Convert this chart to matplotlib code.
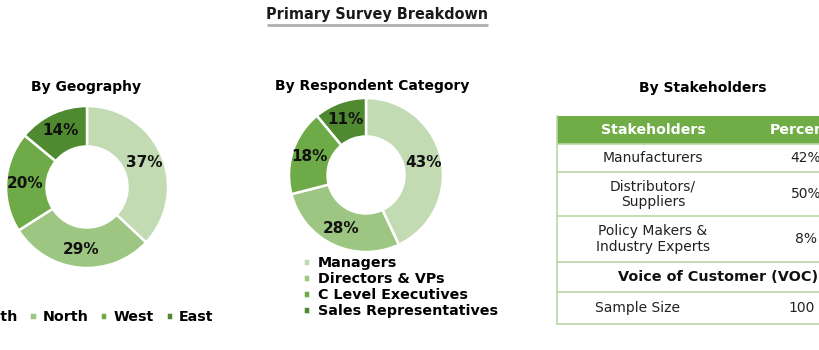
import matplotlib
matplotlib.use("Agg")
import matplotlib.pyplot as plt
from matplotlib.patches import Rectangle

# survey figures
geo_labels = ["South", "North", "West", "East"]
geo_share = [37, 29, 20, 14]

resp_labels = ["Managers", "Directors & VPs", "C Level Executives", "Sales Representatives"]
resp_share = [43, 28, 18, 11]

stake_names = ["Manufacturers", "Distributors/\nSuppliers", "Policy Makers &\nIndustry Experts"]
stake_share = [42, 50, 8]
sample_size = 100

GREENS = ["#c3dbb3", "#9dc683", "#6eaa47", "#4f8a31"]
HEADER_GREEN = "#70ad47"
LINE_GREEN = "#b9d7a3"

W, H = 820, 350
fig = plt.figure(figsize=(W / 100, H / 100), dpi=100)

# pixel-space overlay for titles and the table
ax0 = fig.add_axes([0, 0, 1, 1])
ax0.set_xlim(0, W)
ax0.set_ylim(H, 0)
ax0.axis("off")


def donut_axes(cx, cy, r):
    return fig.add_axes([(cx - r) / W, (H - cy - r) / H, 2 * r / W, 2 * r / H])


def draw_donut(ax, values):
    wedges, _, autotexts = ax.pie(
        values, colors=GREENS, startangle=90, counterclock=False,
        autopct="%d%%", pctdistance=0.77,
        wedgeprops=dict(width=0.5, edgecolor="white", linewidth=1.8),
        textprops=dict(fontsize=11, fontweight="bold", color="#111111"))
    ax.set_xlim(-1, 1)
    ax.set_ylim(-1, 1)
    ax.set_facecolor("none")
    return wedges


# title
ax0.text(377, 15, "Primary Survey Breakdown", ha="center", va="center",
         fontsize=11.5, fontweight="bold", fontstretch="condensed", color="#1a1a1a")
ax0.plot([267, 488], [25, 25], color="#b0b0b0", lw=2, solid_capstyle="butt")

# By Geography
ax0.text(86, 87, "By Geography", ha="center", va="center", fontsize=10, fontweight="bold")
ax1 = donut_axes(87, 187, 81)
w1 = draw_donut(ax1, geo_share)
fig.legend(w1, geo_labels, ncol=4, loc="center left",
           bbox_to_anchor=(-43 / W, 1 - 317 / H), frameon=False,
           prop=dict(size=10.3, weight="bold"), handlelength=0.5, handleheight=0.5,
           handletextpad=0.4, columnspacing=0.85, borderpad=0, borderaxespad=0)

# By Respondent Category
ax0.text(372, 86, "By Respondent Category", ha="center", va="center",
         fontsize=10, fontweight="bold")
ax2 = donut_axes(366, 175, 77)
w2 = draw_donut(ax2, resp_share)
fig.legend(w2, resp_labels, ncol=1, loc="upper left",
           bbox_to_anchor=(303 / W, 1 - 256 / H), frameon=False,
           prop=dict(size=10.3, weight="bold"), handlelength=0.5, handleheight=0.5,
           handletextpad=0.55, labelspacing=0.15, borderpad=0, borderaxespad=0)

# By Stakeholders table
ax0.text(703, 88, "By Stakeholders", ha="center", va="center", fontsize=10, fontweight="bold")
x_left, x_right = 557, 880
col1_x, col2_x = 653, 806
rows = [116, 144, 172, 216, 262, 292, 324]

ax0.add_patch(Rectangle((x_left, rows[0]), x_right - x_left, rows[1] - rows[0],
                        facecolor=HEADER_GREEN, edgecolor="none"))
ax0.text(col1_x, (rows[0] + rows[1]) / 2, "Stakeholders", ha="center", va="center",
         fontsize=10.2, fontweight="bold", color="white")
ax0.text(770, (rows[0] + rows[1]) / 2, "Percentage", ha="left", va="center",
         fontsize=10.2, fontweight="bold", color="white")

for i, (name, share) in enumerate(zip(stake_names, stake_share)):
    yc = (rows[i + 1] + rows[i + 2]) / 2
    ax0.text(col1_x, yc, name, ha="center", va="center", fontsize=10,
             color="#222222", linespacing=1.1)
    ax0.text(col2_x, yc, f"{share}%", ha="center", va="center", fontsize=10, color="#222222")

ax0.text(718, (rows[4] + rows[5]) / 2, "Voice of Customer (VOC)", ha="center", va="center",
         fontsize=10.4, fontweight="bold", color="#111111")
ax0.text(638, (rows[5] + rows[6]) / 2, "Sample Size", ha="center", va="center",
         fontsize=10, color="#222222")
ax0.text(802, (rows[5] + rows[6]) / 2, str(sample_size), ha="center", va="center",
         fontsize=10, color="#222222")

for y in rows[1:]:
    ax0.plot([x_left, x_right], [y, y], color=LINE_GREEN, lw=1.2)
ax0.plot([x_left, x_left], [rows[0], rows[-1]], color=LINE_GREEN, lw=1.2)

fig.savefig("out.png", dpi=100, facecolor="white")
